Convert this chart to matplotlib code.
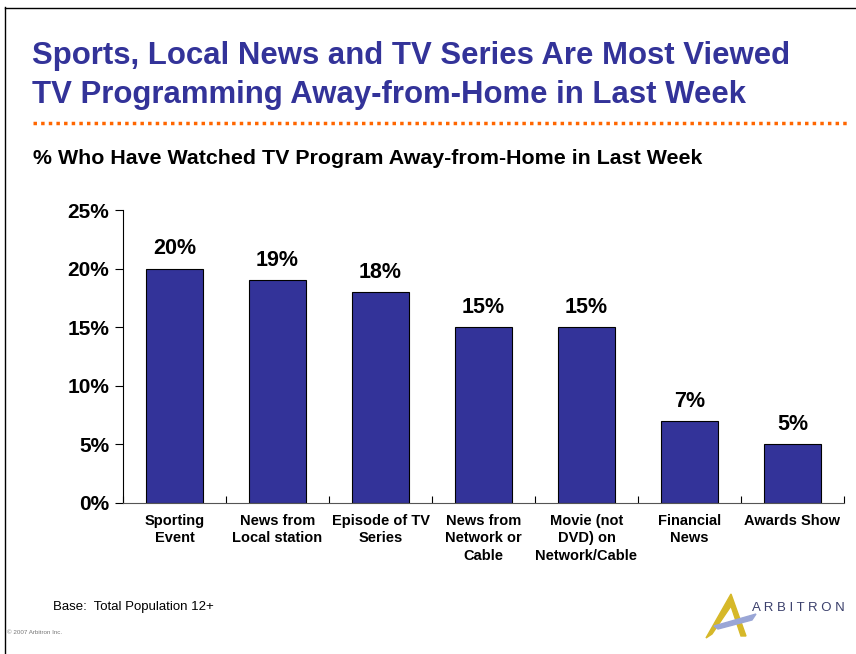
import matplotlib
matplotlib.use("Agg")
import matplotlib.pyplot as plt
from matplotlib.lines import Line2D
from matplotlib.patches import Polygon

# Data
categories = ["Sporting\nEvent", "News from\nLocal station", "Episode of TV\nSeries",
              "News from\nNetwork or\nCable", "Movie (not\nDVD) on\nNetwork/Cable",
              "Financial\nNews", "Awards Show"]
values = [20, 19, 18, 15, 15, 7, 5]
yticks = [0, 5, 10, 15, 20, 25]

BAR_COLOR = "#333399"
TITLE_COLOR = "#333399"

plt.rcParams['font.family'] = ['Liberation Sans', 'DejaVu Sans']

W, H = 856, 654
fig = plt.figure(figsize=(W / 100, H / 100), dpi=100)

def fx(px):
    return px / W

def fy(py):
    return 1 - py / H

# slide frame (left & top edges)
fig.add_artist(Line2D([fx(4.5), fx(4.5)], [fy(7), 0], color="black", lw=1))
fig.add_artist(Line2D([fx(4.5), 1], [fy(7.5), fy(7.5)], color="black", lw=1))

# title
fig.text(fx(32), fy(56), "Sports, Local News and TV Series Are Most Viewed",
         color=TITLE_COLOR, fontsize=22.4, fontweight="bold", va="center", ha="left")
fig.text(fx(32), fy(95), "TV Programming Away-from-Home in Last Week",
         color=TITLE_COLOR, fontsize=22.4, fontweight="bold", va="center", ha="left")

# dotted orange separator
fig.add_artist(Line2D([fx(33), fx(847)], [fy(123), fy(123)], color="#FF6600",
                      lw=2.5, linestyle=(0, (1, 1.2))))

# subtitle
fig.text(fx(33), fy(158), "% Who Have Watched TV Program Away-from-Home in Last Week",
         color="black", fontsize=15.4, fontweight="bold", va="center", ha="left")

# chart
ax = fig.add_axes([fx(123), fy(503), fx(844) - fx(123), fy(210) - fy(503)])
x = list(range(len(values)))
bars = ax.bar(x, values, width=0.56, color=BAR_COLOR, edgecolor="black", linewidth=0.8)
for xi, v in zip(x, values):
    ax.text(xi, v + 0.8, f"{v}%", ha="center", va="bottom", fontsize=15.5, fontweight="bold")

ax.set_xlim(-0.5, len(values) - 0.5)
ax.set_ylim(0, 25)
ax.set_yticks(yticks)
ax.set_yticklabels([f"{t}%" for t in yticks], fontsize=15, fontweight="bold")
ax.set_xticks([i - 0.5 for i in range(len(values) + 1)], minor=False)
ax.set_xticklabels([""] * (len(values) + 1))
ax.set_xticks(x, minor=True)
ax.set_xticklabels(categories, minor=True, fontsize=10.5, fontweight="bold", linespacing=1.3)
ax.tick_params(axis="x", which="minor", length=0, pad=8)
ax.tick_params(axis="x", which="major", length=5, direction="in")
ax.tick_params(axis="y", length=6, direction="out", pad=4)
ax.spines["top"].set_visible(False)
ax.spines["right"].set_visible(False)
ax.spines["bottom"].set_color("#555555")

# footer
fig.text(fx(53), fy(607), "Base:  Total Population 12+", fontsize=9.5, va="center", ha="left")
fig.text(fx(7), fy(632), "\u00a9 2007 Arbitron Inc.", fontsize=4.5, color="#777777",
         va="center", ha="left")

# logo
fig.add_artist(Polygon([(fx(706), fy(638)), (fx(731), fy(594)), (fx(746), fy(636)),
                        (fx(741), fy(636)), (fx(731), fy(606)), (fx(712), fy(634))],
                       closed=True, color="#D6B829", transform=fig.transFigure))
fig.add_artist(Polygon([(fx(714), fy(626)), (fx(756), fy(614)), (fx(752), fy(620)),
                        (fx(718), fy(629))],
                       closed=True, color="#9AA6D6", transform=fig.transFigure))
fig.text(fx(752), fy(608), "A R B I T R O N", fontsize=9.5, color="#3A3F6B",
         va="center", ha="left")

fig.savefig("out.png", dpi=100)
